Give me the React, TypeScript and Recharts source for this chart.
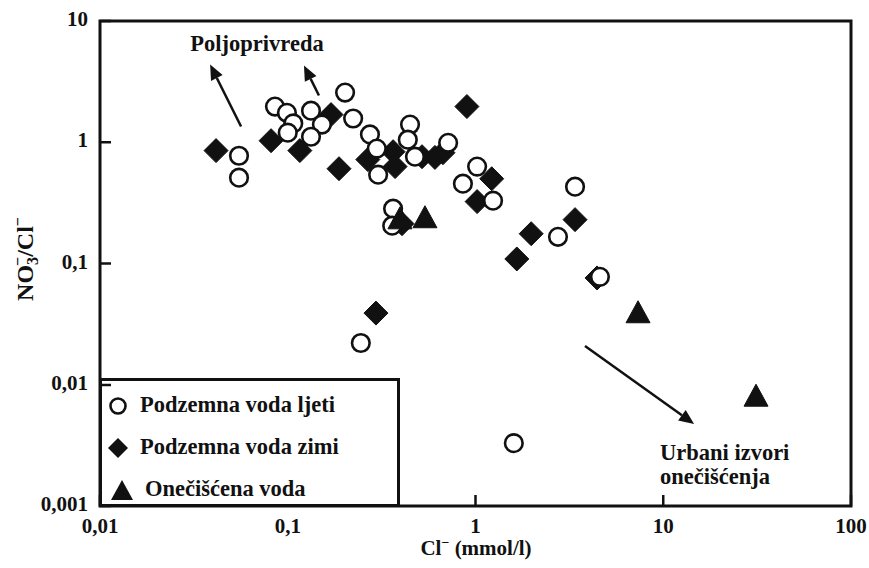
import React from "react";
import {
  ScatterChart,
  Scatter,
  XAxis,
  YAxis,
  ReferenceArea,
  ReferenceLine,
  Legend,
} from "recharts";

const SERIF = '"Liberation Serif", "Times New Roman", serif';
const INK = "#111";

const xTicks = [0.01, 0.1, 1, 10, 100];
const xTickLabels = ["0,01", "0,1", "1", "10", "100"];
const yTicks = [0.001, 0.01, 0.1, 1, 10];
const yTickLabels = ["0,001", "0,01", "0,1", "1", "10"];

const seriesNames = ["Podzemna voda ljeti", "Podzemna voda zimi", "Onečišćena voda"];

// Podzemna voda ljeti (open circles)
const summerCl = [
  0.055, 0.055, 0.0855, 0.099, 0.107, 0.1, 0.133, 0.152, 0.133, 0.202, 0.223, 0.274, 0.298, 0.303,
  0.448, 0.436, 0.476, 0.715, 1.02, 0.857, 1.24, 0.364, 0.36, 3.39, 2.75, 4.6, 0.245, 1.6,
];
const summerRatio = [
  0.774, 0.51, 1.97, 1.75, 1.43, 1.2, 1.82, 1.4, 1.11, 2.57, 1.57, 1.16, 0.886, 0.54,
  1.4, 1.05, 0.76, 0.99, 0.63, 0.455, 0.33, 0.283, 0.205, 0.43, 0.166, 0.0776, 0.0221, 0.0033,
];

// Podzemna voda zimi (filled diamonds)
const winterCl = [
  0.0415, 0.0815, 0.116, 0.17, 0.1875, 0.267, 0.364, 0.373, 0.519, 0.608,
  0.671, 0.9, 1.22, 1.02, 0.406, 1.98, 1.66, 3.39, 4.44, 0.295,
];
const winterRatio = [
  0.853, 1.03, 0.853, 1.69, 0.605, 0.72, 0.836, 0.63, 0.76, 0.75,
  0.82, 1.97, 0.5, 0.324, 0.213, 0.176, 0.109, 0.23, 0.076, 0.039,
];

// Onečišćena voda (filled triangles)
const pollutedCl = [0.396, 0.538, 7.34, 31.2];
const pollutedRatio = [0.238, 0.243, 0.04, 0.0082];

// annotation arrows, [from, to] in data units
const agriArrow1 = [{ x: 0.0564, y: 1.35 }, { x: 0.0386, y: 4.37 }];
const agriArrow2 = [{ x: 0.1466, y: 2.43 }, { x: 0.122, y: 4.3 }];
const urbanArrow = [{ x: 3.83, y: 0.0209 }, { x: 14.6, y: 0.00474 }];

const zip = (xs: number[], ys: number[]) => xs.map((x, i) => ({ x, y: ys[i] }));
const summerData = zip(summerCl, summerRatio);
const winterData = zip(winterCl, winterRatio);
const pollutedData = zip(pollutedCl, pollutedRatio);

const CircleMark = ({ cx, cy }: any) => (
  <circle cx={cx} cy={cy} r={8.8} fill="#fff" stroke={INK} strokeWidth={2.6} />
);

const DiamondMark = ({ cx, cy }: any) => (
  <path
    d={`M${cx},${cy - 12} L${cx + 12},${cy} L${cx},${cy + 12} L${cx - 12},${cy} Z`}
    fill={INK}
    stroke={INK}
    strokeWidth={1}
    strokeLinejoin="round"
  />
);

const TriangleMark = ({ cx, cy }: any) => (
  <path
    d={`M${cx},${cy - 11} L${cx + 12},${cy + 11} L${cx - 12},${cy + 11} Z`}
    fill={INK}
    stroke={INK}
    strokeWidth={1}
    strokeLinejoin="round"
  />
);

function XTick({ x, y, payload }: any) {
  const label = xTickLabels[xTicks.indexOf(payload.value)];
  return (
    <g>
      <line x1={x} y1={y} x2={x} y2={y - 11} stroke={INK} strokeWidth={2.5} />
      <text x={x} y={y + 27} textAnchor="middle" fontFamily={SERIF} fontWeight="bold" fontSize={21} fill={INK}>
        {label}
      </text>
    </g>
  );
}

function YTick({ x, y, payload }: any) {
  const label = yTickLabels[yTicks.indexOf(payload.value)];
  return (
    <g>
      <line x1={x} y1={y} x2={x + 11} y2={y} stroke={INK} strokeWidth={2.5} />
      <text x={x - 12} y={y + 5} textAnchor="end" fontFamily={SERIF} fontWeight="bold" fontSize={21} fill={INK}>
        {label}
      </text>
    </g>
  );
}

function Arrow({ x1, y1, x2, y2 }: any) {
  const ang = Math.atan2(y2 - y1, x2 - x1);
  const len = 15;
  const half = 6.5;
  const bx = x2 - len * Math.cos(ang);
  const by = y2 - len * Math.sin(ang);
  const px = -Math.sin(ang) * half;
  const py = Math.cos(ang) * half;
  return (
    <g>
      <line x1={x1} y1={y1} x2={bx} y2={by} stroke={INK} strokeWidth={2.5} />
      <polygon points={`${x2},${y2} ${bx + px},${by + py} ${bx - px},${by - py}`} fill={INK} />
    </g>
  );
}

const legendSymbols: Record<string, (cx: number, cy: number) => React.ReactNode> = {
  "Podzemna voda ljeti": (cx, cy) => <circle cx={cx} cy={cy} r={7.5} fill="#fff" stroke={INK} strokeWidth={2.6} />,
  "Podzemna voda zimi": (cx, cy) => (
    <path d={`M${cx},${cy - 10} L${cx + 10},${cy} L${cx},${cy + 10} L${cx - 10},${cy} Z`} fill={INK} />
  ),
  "Onečišćena voda": (cx, cy) => (
    <path d={`M${cx},${cy - 10} L${cx + 11},${cy + 10} L${cx - 11},${cy + 10} Z`} fill={INK} />
  ),
};

function LegendBox({ payload }: any) {
  const items = [...(payload || [])].sort(
    (a: any, b: any) => seriesNames.indexOf(a.value) - seriesNames.indexOf(b.value)
  );
  return (
    <svg width={301} height={130} style={{ display: "block" }}>
      <rect x={1.5} y={1.5} width={298} height={126} fill="#fff" stroke={INK} strokeWidth={3} />
      <line x1={1.5} y1={7} x2={12} y2={7} stroke={INK} strokeWidth={2.5} />
      {items.map((item: any, i: number) => {
        const cy = 28 + i * 42;
        return (
          <g key={item.value}>
            {legendSymbols[item.value]?.(i === 2 ? 23 : 19, cy)}
            <text
              x={i === 2 ? 46 : 41}
              y={cy + 6}
              fontFamily={SERIF}
              fontWeight="bold"
              fontSize={22.5}
              fill={INK}
            >
              {item.value}
            </text>
          </g>
        );
      })}
    </svg>
  );
}

export default function App() {
  return (
    <div style={{ position: "absolute", left: 0, top: 0, width: 869, height: 568, background: "#fff" }}>
      <ScatterChart width={869} height={568} margin={{ top: 21, right: 18, bottom: 0, left: 0 }}>
        <XAxis
          type="number"
          dataKey="x"
          scale="log"
          domain={[0.01, 100]}
          ticks={xTicks}
          interval={0}
          allowDataOverflow
          height={62}
          axisLine={false}
          tickLine={false}
          tickSize={0}
          tickMargin={0}
          tick={<XTick />}
        />
        <YAxis
          type="number"
          dataKey="y"
          scale="log"
          domain={[0.001, 10]}
          ticks={yTicks}
          interval={0}
          allowDataOverflow
          width={100}
          axisLine={false}
          tickLine={false}
          tickSize={0}
          tickMargin={0}
          tick={<YTick />}
        />
        <ReferenceArea
          x1={0.01}
          x2={100}
          y1={0.001}
          y2={10}
          fill="none"
          stroke={INK}
          strokeWidth={3}
          ifOverflow="visible"
        />
        <ReferenceLine segment={agriArrow1} shape={<Arrow />} ifOverflow="visible" />
        <ReferenceLine segment={agriArrow2} shape={<Arrow />} ifOverflow="visible" />
        <ReferenceLine segment={urbanArrow} shape={<Arrow />} ifOverflow="visible" />
        <Scatter name={seriesNames[1]} data={winterData} shape={<DiamondMark />} isAnimationActive={false} />
        <Scatter name={seriesNames[0]} data={summerData} shape={<CircleMark />} isAnimationActive={false} />
        <Scatter name={seriesNames[2]} data={pollutedData} shape={<TriangleMark />} isAnimationActive={false} />
        <Legend
          layout="vertical"
          align="center"
          verticalAlign="middle"
          wrapperStyle={{ position: "absolute", left: 99, top: 378, width: 301, height: 130 }}
          content={<LegendBox />}
        />
      </ScatterChart>
      <svg
        width={869}
        height={568}
        style={{ position: "absolute", left: 0, top: 0, pointerEvents: "none" }}
        fontFamily={SERIF}
        fontWeight="bold"
        fill={INK}
      >
        <text x={257} y={51} textAnchor="middle" fontSize={22.5}>Poljoprivreda</text>
        <text x={660} y={460} fontSize={22.5}>Urbani izvori</text>
        <text x={660} y={484} fontSize={22.5}>onečišćenja</text>
        <text x={476} y={555} textAnchor="middle" fontSize={21}>
          Cl<tspan dy={-8} fontSize={14}>−</tspan>
          <tspan dy={8}> (mmol/l)</tspan>
        </text>
        <text transform="translate(33,259) rotate(-90)" textAnchor="middle" fontSize={24}>
          NO<tspan dy={5} fontSize={16}>3</tspan>
          <tspan dx={-9} dy={-15} fontSize={16}>−</tspan>
          <tspan dy={10}>/Cl</tspan>
          <tspan dy={-10} fontSize={16}>−</tspan>
        </text>
      </svg>
    </div>
  );
}
